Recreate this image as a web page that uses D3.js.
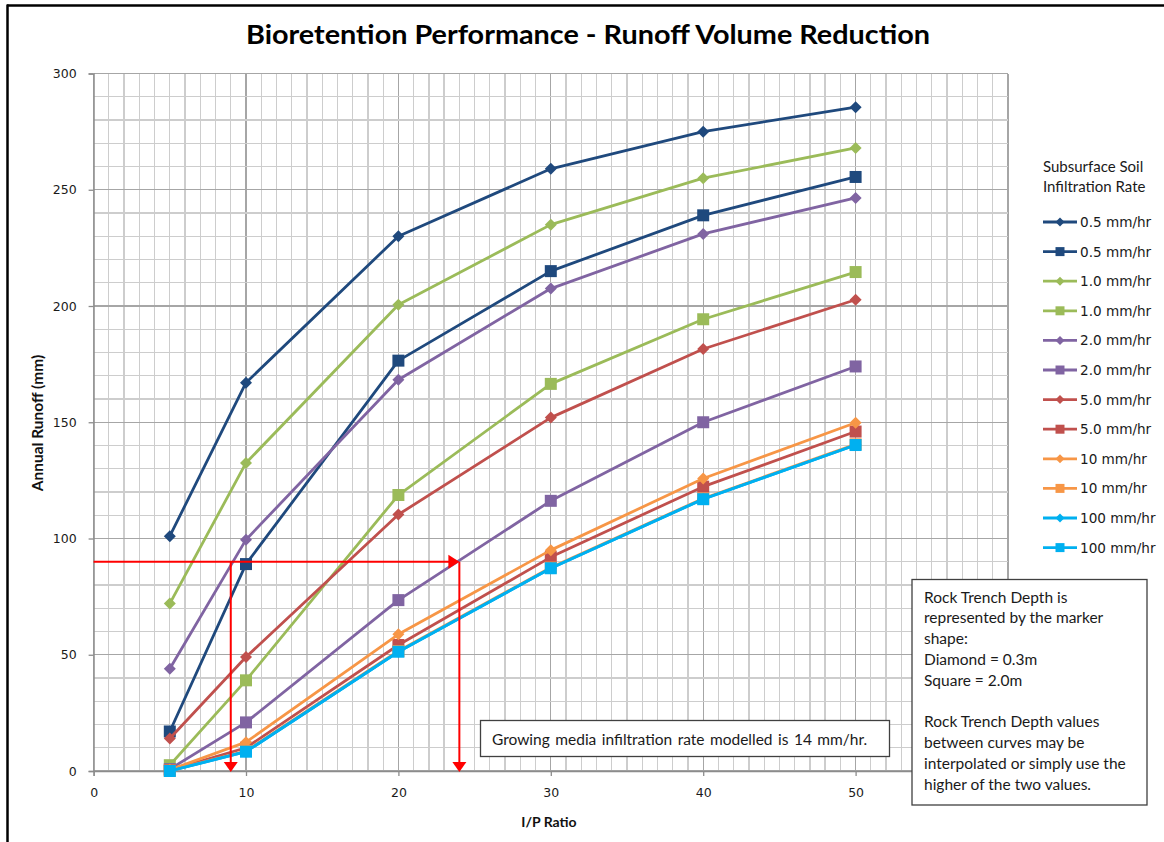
<!DOCTYPE html>
<html>
<head>
<meta charset="utf-8">
<script src="https://cdn.jsdelivr.net/npm/d3@7"></script>
<style>
  body { margin: 0; background: #fff; }
  svg { display: block; }
</style>
</head>
<body>
<svg id="chart" width="1164" height="842"></svg>
<script>
// ---------------- DATA ----------------
const xValues = [5, 10, 20, 30, 40, 50];

const seriesLabels = ["0.5 mm/hr", "0.5 mm/hr", "1.0 mm/hr", "1.0 mm/hr", "2.0 mm/hr", "2.0 mm/hr",
                      "5.0 mm/hr", "5.0 mm/hr", "10 mm/hr", "10 mm/hr", "100 mm/hr", "100 mm/hr"];
const seriesShapes = ["diamond", "square", "diamond", "square", "diamond", "square",
                      "diamond", "square", "diamond", "square", "diamond", "square"];
const seriesColors = ["#1F497D", "#1F497D", "#9BBB59", "#9BBB59", "#8064A2", "#8064A2",
                      "#C0504D", "#C0504D", "#F79646", "#F79646", "#00B0F0", "#00B0F0"];

const rate05Diamond  = [101, 167, 230, 259, 275, 285.5];
const rate05Square   = [17, 89, 176.5, 215, 239, 255.5];
const rate10Diamond  = [72, 132.5, 200.5, 235, 255, 268];
const rate10Square   = [2.5, 39, 118.7, 166.5, 194.3, 214.6];
const rate20Diamond  = [44, 99.5, 168.3, 207.5, 231, 246.5];
const rate20Square   = [0.8, 20.9, 73.5, 116.2, 150, 174];
const rate50Diamond  = [14, 49, 110.3, 152, 181.5, 202.7];
const rate50Square   = [0.3, 10, 54.2, 92, 122.3, 146];
const rate10mDiamond = [0.5, 12.4, 58.8, 95, 125.8, 149.8];
const rate10mSquare  = [0.2, 8.6, 51.6, 87.5, 117.2, 140.5];
const rate100Diamond = [0, 8.3, 51.3, 87.2, 117, 140.2];
const rate100Square  = [0, 8.3, 51.3, 87.2, 116.9, 140.2];

const seriesValues = [rate05Diamond, rate05Square, rate10Diamond, rate10Square, rate20Diamond, rate20Square,
                      rate50Diamond, rate50Square, rate10mDiamond, rate10mSquare, rate100Diamond, rate100Square];

const xTicks = [0, 10, 20, 30, 40, 50];
const yTicks = [0, 50, 100, 150, 200, 250, 300];

// Reading example (red arrows)
const readRunoff = 90;
const readRatioA = 9;
const readRatioB = 24;

const titleText = "Bioretention Performance - Runoff Volume Reduction";
const xAxisTitle = "I/P Ratio";
const yAxisTitle = "Annual Runoff (mm)";
const legendTitle = ["Subsurface Soil", "Infiltration Rate"];
const noteGrowing = "Growing media infiltration rate modelled is 14 mm/hr.";
const noteRock = ["Rock Trench Depth is", "represented by the marker", "shape:", "Diamond = 0.3m",
                  "Square = 2.0m", "", "Rock Trench Depth values", "between curves may be",
                  "interpolated or simply use the", "higher of the two values."];

// ---------------- CHART ----------------
const svg = d3.select("#chart");
const textFont = "Lato, 'Open Sans', sans-serif";
const numFont = "'DejaVu Sans', Verdana, sans-serif";

const x = d3.scaleLinear().domain([0, 60]).range([93.6, 1008]);
const y = d3.scaleLinear().domain([0, 300]).range([771, 73.5]);

// outer frame (top + left visible)
svg.append("line").attr("x1", 7).attr("x2", 1164).attr("y1", 5.5).attr("y2", 5.5)
  .attr("stroke", "#000").attr("stroke-width", 2.5);
svg.append("line").attr("x1", 7.5).attr("x2", 7.5).attr("y1", 4.5).attr("y2", 842)
  .attr("stroke", "#000").attr("stroke-width", 2.5);

// title
svg.append("text").attr("x", 588).attr("y", 44).attr("text-anchor", "middle")
  .attr("font-family", textFont).attr("font-weight", "bold").attr("font-size", 27)
  .attr("textLength", 684).attr("lengthAdjust", "spacingAndGlyphs")
  .attr("fill", "#000").text(titleText);

// grid
const grid = svg.append("g");
d3.range(0, 61, 1).forEach(v => {
  grid.append("line").attr("x1", x(v)).attr("x2", x(v)).attr("y1", y(300)).attr("y2", y(0))
    .attr("stroke", v % 10 === 0 ? "#A6A6A6" : "#CDCDCD").attr("stroke-width", 1.3)
    .attr("shape-rendering", "crispEdges");
});
d3.range(0, 301, 10).forEach(v => {
  grid.append("line").attr("x1", x(0)).attr("x2", x(60)).attr("y1", y(v)).attr("y2", y(v))
    .attr("stroke", v % 50 === 0 ? "#A6A6A6" : "#CDCDCD").attr("stroke-width", 1.3)
    .attr("shape-rendering", "crispEdges");
});

// axes
const xAxis = svg.append("g").attr("transform", `translate(0,${y(0)})`)
  .call(d3.axisBottom(x).tickValues(xTicks).tickSize(5).tickPadding(12).tickFormat(d3.format("d")));
const yAxis = svg.append("g").attr("transform", `translate(${x(0)},0)`)
  .call(d3.axisLeft(y).tickValues(yTicks).tickSize(5).tickPadding(12).tickFormat(d3.format("d")));
[xAxis, yAxis].forEach(a => {
  a.select(".domain").attr("stroke", "#8C8C8C").attr("stroke-width", 1.3);
  a.selectAll(".tick line").attr("stroke", "#8C8C8C").attr("stroke-width", 1.3);
  a.selectAll(".tick text").attr("font-family", numFont).attr("font-size", 12.5).attr("fill", "#1a1a1a");
});

svg.append("text").attr("x", 549).attr("y", 827).attr("text-anchor", "middle")
  .attr("font-family", textFont).attr("font-weight", "bold").attr("font-size", 14)
  .attr("fill", "#111").text(xAxisTitle);
svg.append("text").attr("transform", "translate(43,423) rotate(-90)").attr("text-anchor", "middle")
  .attr("font-family", textFont).attr("font-weight", "bold").attr("font-size", 15.5)
  .attr("fill", "#111").text(yAxisTitle);

// marker paths
function markerPath(shape, s) {
  if (shape === "diamond") return `M0,${-s}L${s},0L0,${s}L${-s},0Z`;
  return `M${-s},${-s}H${s}V${s}H${-s}Z`;
}

// series
const line = d3.line().x((d, i) => x(xValues[i])).y(d => y(d));
const seriesG = svg.append("g");
seriesValues.forEach((vals, k) => {
  const g = seriesG.append("g");
  g.append("path").datum(vals).attr("d", line).attr("fill", "none")
    .attr("stroke", seriesColors[k]).attr("stroke-width", 2.8).attr("stroke-linejoin", "round");
  g.selectAll("path.m").data(vals).join("path").attr("class", "m")
    .attr("transform", (d, i) => `translate(${x(xValues[i])},${y(d)})`)
    .attr("d", markerPath(seriesShapes[k], 6))
    .attr("fill", seriesColors[k]);
});

// red reading arrows
const red = "#FF0000";
const arr = svg.append("g");
arr.append("line").attr("x1", x(0)).attr("x2", x(readRatioB) - 9).attr("y1", y(readRunoff)).attr("y2", y(readRunoff))
  .attr("stroke", red).attr("stroke-width", 2);
arr.append("path").attr("d", `M${x(readRatioB)},${y(readRunoff)}l-11,-7v14Z`).attr("fill", red);
[readRatioA, readRatioB].forEach(r => {
  arr.append("line").attr("x1", x(r)).attr("x2", x(r)).attr("y1", y(readRunoff)).attr("y2", y(0) - 8)
    .attr("stroke", red).attr("stroke-width", 2);
  arr.append("path").attr("d", `M${x(r)},${y(0) + 1}l-7,-10h14Z`).attr("fill", red);
});

// legend
const leg = svg.append("g");
legendTitle.forEach((t, i) => {
  leg.append("text").attr("x", 1043).attr("y", 172 + i * 20).attr("font-family", textFont)
    .attr("font-size", 15).attr("fill", "#1a1a1a").text(t);
});
seriesLabels.forEach((lab, k) => {
  const cy = 222 + k * 29.6;
  leg.append("line").attr("x1", 1043).attr("x2", 1077).attr("y1", cy).attr("y2", cy)
    .attr("stroke", seriesColors[k]).attr("stroke-width", 2.8);
  leg.append("path").attr("transform", `translate(1060,${cy})`)
    .attr("d", markerPath(seriesShapes[k], 4.5))
    .attr("fill", seriesColors[k]);
  leg.append("text").attr("x", 1080).attr("y", cy + 5).attr("font-family", numFont)
    .attr("font-size", 13.6).attr("fill", "#1a1a1a").text(lab);
});

// note: growing media
svg.append("rect").attr("x", 480.5).attr("y", 720.5).attr("width", 409).attr("height", 36)
  .attr("fill", "#fff").attr("stroke", "#404040").attr("stroke-width", 1.3);
svg.append("text").attr("x", 492).attr("y", 744.5).attr("font-family", textFont)
  .attr("font-size", 15.5).attr("fill", "#1a1a1a").attr("word-spacing", 1.5).text(noteGrowing);

// note: rock trench depth
svg.append("rect").attr("x", 912).attr("y", 579.5).attr("width", 235).attr("height", 225.5)
  .attr("fill", "#fff").attr("stroke", "#404040").attr("stroke-width", 1.3);
noteRock.forEach((t, i) => {
  svg.append("text").attr("x", 924).attr("y", 602.5 + i * 20.8).attr("font-family", textFont)
    .attr("font-size", 15.5).attr("fill", "#1a1a1a").text(t);
});
</script>
</body>
</html>
